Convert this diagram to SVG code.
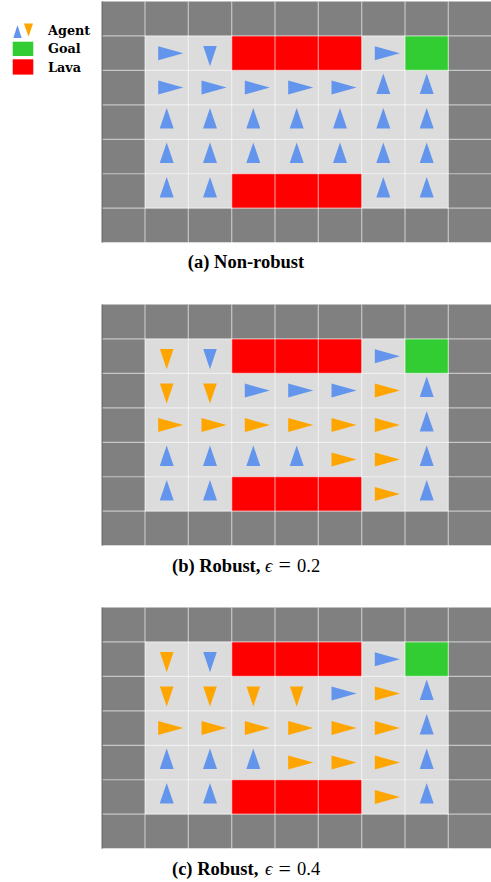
<svg xmlns="http://www.w3.org/2000/svg" xmlns:xlink="http://www.w3.org/1999/xlink" width="491" height="882" viewBox="0 0 491 882">
  <style>
    .wall { fill: #808080; }
    .floor { fill: #dcdcdc; }
    .lava { fill: #ff0000; }
    .goal { fill: #32cd32; }
    .b { fill: #6495ed; }
    .o { fill: #ffa500; }
    .grid line { stroke: #ffffff; stroke-opacity: 0.55; stroke-width: 1.2; }
    .spine { stroke: #6a6a6a; stroke-width: 1; fill: none; }
    .legend-text { font-family: "DejaVu Serif", serif; font-weight: bold; font-size: 12.8px; fill: #000; }
    .caption { font-family: "Liberation Serif", serif; font-size: 18.5px; fill: #000; }
    .caption .bold { font-weight: bold; }
    .caption .math { font-style: italic; }
    .caption .rel { font-size: 22px; }
  </style>
  <defs>
    <!-- action markers, centred on the cell centre -->
    <path id="up" d="M0,-14 L7,6.5 L-7,6.5 Z"/>
    <path id="down" d="M-6.8,-7.2 L6.8,-7.2 L0,13 Z"/>
    <path id="right" d="M-8.5,-7 L16.6,0 L-8.5,7 Z"/>
    <!-- shared environment: walls, floor, lava, goal and grid lines -->
    <g id="env">
      <rect class="wall" x="101.7" y="1.5" width="390" height="241.15"/>
      <rect class="floor" x="145" y="35.95" width="303.3" height="172.25"/>
      <rect class="lava" x="231.7" y="35.95" width="130" height="34.45"/>
      <rect class="lava" x="231.7" y="173.75" width="130" height="34.45"/>
      <rect class="goal" x="405" y="35.95" width="43.33" height="34.45"/>
      <g class="grid">
        <line x1="145" y1="1.5" x2="145" y2="242.65"/>
        <line x1="188.3" y1="1.5" x2="188.3" y2="242.65"/>
        <line x1="231.7" y1="1.5" x2="231.7" y2="242.65"/>
        <line x1="275" y1="1.5" x2="275" y2="242.65"/>
        <line x1="318.3" y1="1.5" x2="318.3" y2="242.65"/>
        <line x1="361.7" y1="1.5" x2="361.7" y2="242.65"/>
        <line x1="405" y1="1.5" x2="405" y2="242.65"/>
        <line x1="448.3" y1="1.5" x2="448.3" y2="242.65"/>
        <line x1="101.7" y1="35.95" x2="491" y2="35.95"/>
        <line x1="101.7" y1="70.4" x2="491" y2="70.4"/>
        <line x1="101.7" y1="104.85" x2="491" y2="104.85"/>
        <line x1="101.7" y1="139.3" x2="491" y2="139.3"/>
        <line x1="101.7" y1="173.75" x2="491" y2="173.75"/>
        <line x1="101.7" y1="208.2" x2="491" y2="208.2"/>
        <line x1="101.7" y1="242.65" x2="491" y2="242.65"/>
      </g>
      <path class="spine" d="M102.2,1.5 V242.65"/>
    </g>
  </defs>

  <!-- legend -->
  <g id="legend">
    <path class="b" d="M17.5,25 L21.7,38 L13.3,38 Z"/>
    <path class="o" d="M24,23.5 L33,23.5 L28.5,36.7 Z"/>
    <text class="legend-text" x="48" y="35">Agent</text>
    <rect class="goal" x="12.7" y="41.7" width="20.6" height="14.3"/>
    <text class="legend-text" x="48" y="53.3">Goal</text>
    <rect class="lava" x="12.7" y="59.3" width="20.6" height="15.3"/>
    <text class="legend-text" x="48" y="71.5">Lava</text>
  </g>

  <!-- (a) non-robust policy -->
  <g id="panel-a">
    <use xlink:href="#env"/>
    <g class="b">
      <use xlink:href="#right" x="166.7" y="53.2"/>
      <use xlink:href="#down" x="210" y="53.2"/>
      <use xlink:href="#right" x="383.3" y="53.2"/>
      <use xlink:href="#right" x="166.7" y="87.6"/>
      <use xlink:href="#right" x="210" y="87.6"/>
      <use xlink:href="#right" x="253.3" y="87.6"/>
      <use xlink:href="#right" x="296.7" y="87.6"/>
      <use xlink:href="#right" x="340" y="87.6"/>
      <use xlink:href="#up" x="383.3" y="87.6"/>
      <use xlink:href="#up" x="426.7" y="87.6"/>
      <use xlink:href="#up" x="166.7" y="122.1"/>
      <use xlink:href="#up" x="210" y="122.1"/>
      <use xlink:href="#up" x="253.3" y="122.1"/>
      <use xlink:href="#up" x="296.7" y="122.1"/>
      <use xlink:href="#up" x="340" y="122.1"/>
      <use xlink:href="#up" x="383.3" y="122.1"/>
      <use xlink:href="#up" x="426.7" y="122.1"/>
      <use xlink:href="#up" x="166.7" y="156.5"/>
      <use xlink:href="#up" x="210" y="156.5"/>
      <use xlink:href="#up" x="253.3" y="156.5"/>
      <use xlink:href="#up" x="296.7" y="156.5"/>
      <use xlink:href="#up" x="340" y="156.5"/>
      <use xlink:href="#up" x="383.3" y="156.5"/>
      <use xlink:href="#up" x="426.7" y="156.5"/>
      <use xlink:href="#up" x="166.7" y="191"/>
      <use xlink:href="#up" x="210" y="191"/>
      <use xlink:href="#up" x="383.3" y="191"/>
      <use xlink:href="#up" x="426.7" y="191"/>
    </g>
    <text class="caption bold" x="246" y="268.3" text-anchor="middle" font-weight="bold" font-size="19">(a) Non-robust</text>
  </g>

  <!-- (b) robust policy, epsilon = 0.2 -->
  <g id="panel-b" transform="translate(0,303)">
    <use xlink:href="#env"/>
    <g class="b">
      <use xlink:href="#down" x="210" y="53.2"/>
      <use xlink:href="#right" x="383.3" y="53.2"/>
      <use xlink:href="#right" x="253.3" y="87.6"/>
      <use xlink:href="#right" x="296.7" y="87.6"/>
      <use xlink:href="#right" x="340" y="87.6"/>
      <use xlink:href="#up" x="426.7" y="87.6"/>
      <use xlink:href="#up" x="426.7" y="122.1"/>
      <use xlink:href="#up" x="166.7" y="156.5"/>
      <use xlink:href="#up" x="210" y="156.5"/>
      <use xlink:href="#up" x="253.3" y="156.5"/>
      <use xlink:href="#up" x="296.7" y="156.5"/>
      <use xlink:href="#up" x="426.7" y="156.5"/>
      <use xlink:href="#up" x="166.7" y="191"/>
      <use xlink:href="#up" x="210" y="191"/>
      <use xlink:href="#up" x="426.7" y="191"/>
    </g>
    <g class="o">
      <use xlink:href="#down" x="166.7" y="53.2"/>
      <use xlink:href="#down" x="166.7" y="87.6"/>
      <use xlink:href="#down" x="210" y="87.6"/>
      <use xlink:href="#right" x="383.3" y="87.6"/>
      <use xlink:href="#right" x="166.7" y="122.1"/>
      <use xlink:href="#right" x="210" y="122.1"/>
      <use xlink:href="#right" x="253.3" y="122.1"/>
      <use xlink:href="#right" x="296.7" y="122.1"/>
      <use xlink:href="#right" x="340" y="122.1"/>
      <use xlink:href="#right" x="383.3" y="122.1"/>
      <use xlink:href="#right" x="340" y="156.5"/>
      <use xlink:href="#right" x="383.3" y="156.5"/>
      <use xlink:href="#right" x="383.3" y="191"/>
    </g>
    <text class="caption" y="268.7"><tspan class="bold" x="172">(b) Robust,</tspan><tspan class="math" x="265">ϵ</tspan><tspan class="rel" x="278.5" y="269.2">=</tspan><tspan x="297" y="268.7">0.2</tspan></text>
  </g>

  <!-- (c) robust policy, epsilon = 0.4 -->
  <g id="panel-c" transform="translate(0,606)">
    <use xlink:href="#env"/>
    <g class="b">
      <use xlink:href="#down" x="210" y="53.2"/>
      <use xlink:href="#right" x="383.3" y="53.2"/>
      <use xlink:href="#right" x="340" y="87.6"/>
      <use xlink:href="#up" x="426.7" y="87.6"/>
      <use xlink:href="#up" x="426.7" y="122.1"/>
      <use xlink:href="#up" x="166.7" y="156.5"/>
      <use xlink:href="#up" x="210" y="156.5"/>
      <use xlink:href="#up" x="253.3" y="156.5"/>
      <use xlink:href="#up" x="426.7" y="156.5"/>
      <use xlink:href="#up" x="166.7" y="191"/>
      <use xlink:href="#up" x="210" y="191"/>
      <use xlink:href="#up" x="426.7" y="191"/>
    </g>
    <g class="o">
      <use xlink:href="#down" x="166.7" y="53.2"/>
      <use xlink:href="#down" x="166.7" y="87.6"/>
      <use xlink:href="#down" x="210" y="87.6"/>
      <use xlink:href="#down" x="253.3" y="87.6"/>
      <use xlink:href="#down" x="296.7" y="87.6"/>
      <use xlink:href="#right" x="383.3" y="87.6"/>
      <use xlink:href="#right" x="166.7" y="122.1"/>
      <use xlink:href="#right" x="210" y="122.1"/>
      <use xlink:href="#right" x="253.3" y="122.1"/>
      <use xlink:href="#right" x="296.7" y="122.1"/>
      <use xlink:href="#right" x="340" y="122.1"/>
      <use xlink:href="#right" x="383.3" y="122.1"/>
      <use xlink:href="#right" x="296.7" y="156.5"/>
      <use xlink:href="#right" x="340" y="156.5"/>
      <use xlink:href="#right" x="383.3" y="156.5"/>
      <use xlink:href="#right" x="383.3" y="191"/>
    </g>
    <text class="caption" y="269"><tspan class="bold" x="172">(c) Robust,</tspan><tspan class="math" x="265">ϵ</tspan><tspan class="rel" x="278.5" y="269.5">=</tspan><tspan x="297" y="269">0.4</tspan></text>
  </g>
</svg>
